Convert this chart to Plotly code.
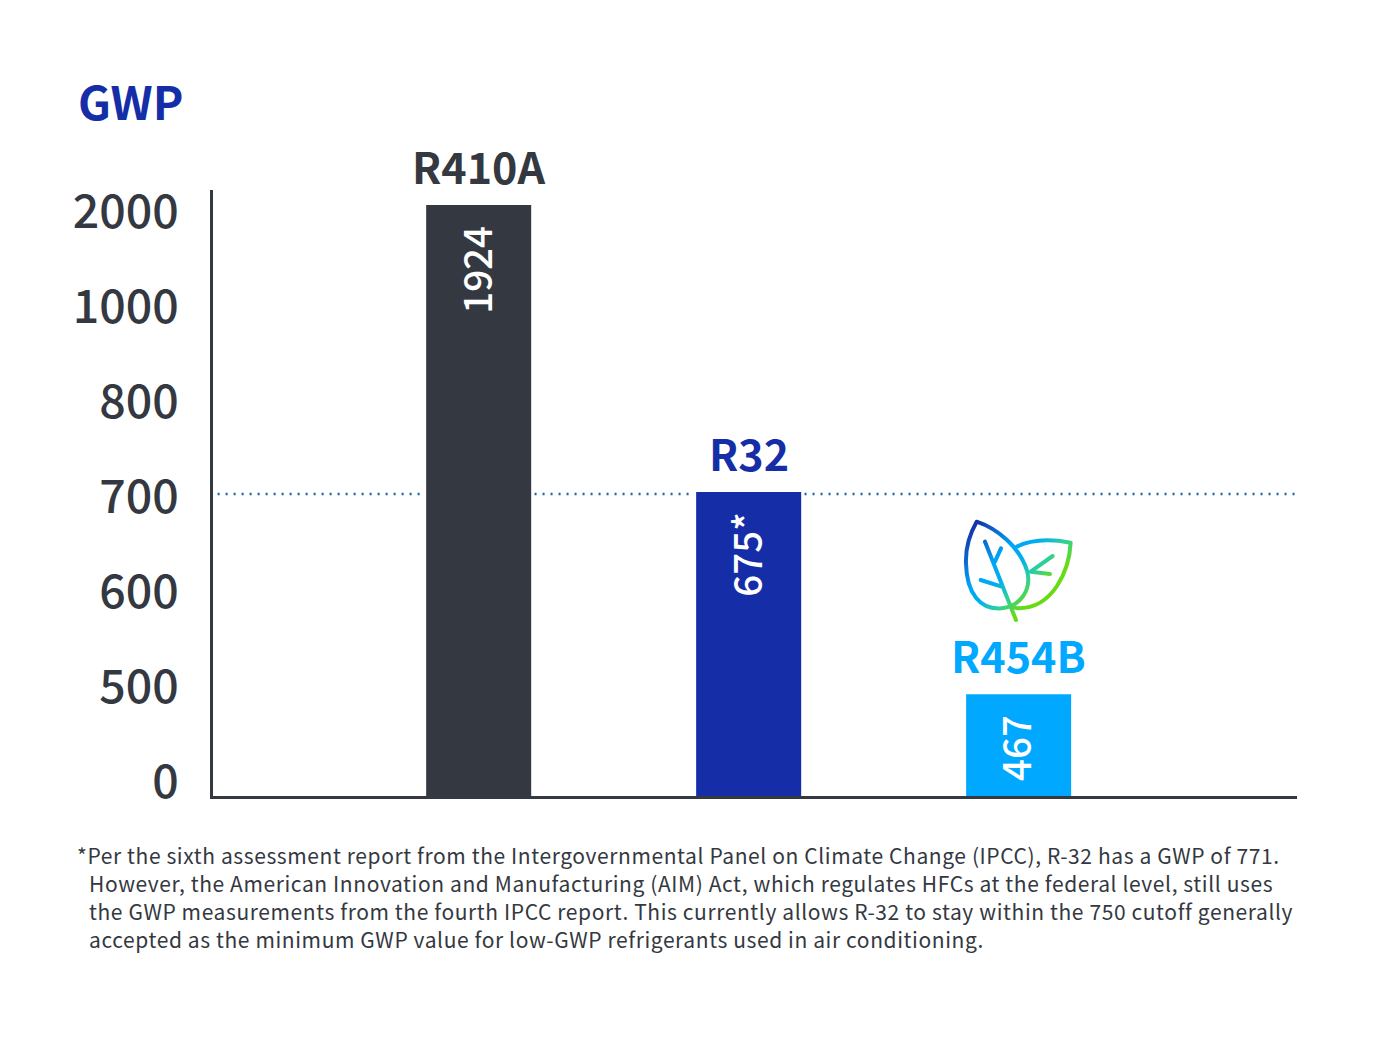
"""GWP comparison of refrigerants, drawn on a stepped (non linear) axis."""

import base64

import plotly.graph_objects as go

refrigerants = ["R410A", "R32", "R454B"]
gwp_labels = ["1924", "675*", "467"]
# bar heights in axis steps, the axis in the picture is evenly spaced, not linear
bar_levels = [6.22, 3.2, 1.07]
bar_colors = ["#343841", "#152EA8", "#00A9FF"]

tick_labels = ["0", "500", "600", "700", "800", "1000", "2000"]
tick_levels = [0.15, 1.15, 2.15, 3.15, 4.15, 5.15, 6.15]

cutoff_level = 3.18
cutoff_x = [-0.967, -0.207, None, 0.207, 0.796, None, 1.207, 3.04]

footnote_lines = [
    "*Per the sixth assessment report from the Intergovernmental Panel on Climate Change (IPCC), R-32 has a GWP of 771.",
    "However, the American Innovation and Manufacturing (AIM) Act, which regulates HFCs at the federal level, still uses",
    "the GWP measurements from the fourth IPCC report. This currently allows R-32 to stay within the 750 cutoff generally",
    "accepted as the minimum GWP value for low-GWP refrigerants used in air conditioning.",
]
footnote_x = [75, 87, 87, 87]
footnote_y = [855, 883, 911, 938.5]

DARK = "#343841"
FONT = "Noto Sans CJK SC"

# plot area in page pixels, the page body adds 8px around the figure
LEFT, RIGHT, TOP, BOTTOM = 213, 1297, 190, 796
PAGE_MARGIN = 8

LEAF_SVG = """<svg xmlns="http://www.w3.org/2000/svg" viewBox="0 0 480 420" width="480" height="420">
<defs><linearGradient id="g" gradientUnits="userSpaceOnUse" x1="87" y1="87" x2="310" y2="310">
<stop offset="0" stop-color="#1530A8"/><stop offset="0.39" stop-color="#00A6F5"/>
<stop offset="0.55" stop-color="#00AEEF"/><stop offset="0.72" stop-color="#2CCFA0"/>
<stop offset="0.9" stop-color="#68DC12"/></linearGradient></defs>
<g fill="none" stroke="url(#g)" stroke-width="12" stroke-linecap="round" stroke-linejoin="round">
<path d="M110,65 C170,85 240,140 262,215 C275,270 240,320 185,325 C120,330 80,280 78,190 C76,140 90,100 110,65 Z"/>
<path d="M135,125 L228,360 M183,145 L165,185 M122,240 L185,260"/>
<path d="M230,140 C280,115 340,118 392,128 C388,210 340,325 235,325 C225,325 218,322 210,318"/>
<path d="M338,168 L272,215 L330,222"/>
</g></svg>"""


def paper_x(px):
    return (px - LEFT) / (RIGHT - LEFT)


def paper_y(py):
    return (BOTTOM - py) / (BOTTOM - TOP)


def page_text(text, px, py, size, color, xanchor="center", weight="normal"):
    return dict(
        text=text,
        xref="paper",
        yref="paper",
        x=paper_x(px),
        y=paper_y(py),
        xanchor=xanchor,
        yanchor="middle",
        showarrow=False,
        font=dict(family=FONT, size=size, color=color, weight=weight),
    )


fig = go.Figure()
fig.add_trace(
    go.Scatter(
        x=cutoff_x,
        y=[None if x is None else cutoff_level for x in cutoff_x],
        mode="lines",
        line=dict(color="#1A66A6", width=2.5, dash="2px,6px"),
        cliponaxis=False,
        hoverinfo="skip",
    )
)
fig.add_trace(
    go.Bar(
        x=list(range(len(refrigerants))),
        y=bar_levels,
        width=0.389,
        marker=dict(color=bar_colors, line_width=0),
        hovertext=refrigerants,
    )
)

annotations = [page_text("GWP", 130.5, 100, 46, "#152EA8", weight="bold")]
for i, name in enumerate(refrigerants):
    annotations.append(
        dict(
            text=f"<b>{name}</b>",
            x=i,
            y=bar_levels[i],
            yanchor="bottom",
            yshift=7,
            showarrow=False,
            font=dict(family=FONT, size=43, color=bar_colors[i]),
        )
    )
    annotations.append(
        dict(
            text=gwp_labels[i],
            x=i,
            y=bar_levels[i],
            yanchor="top",
            xshift=-4,
            yshift=-19,
            textangle=-90,
            showarrow=False,
            font=dict(family=FONT, size=38.5, color="white", weight=500),
        )
    )
for line, px, py in zip(footnote_lines, footnote_x, footnote_y):
    spaced = f'<span style="letter-spacing:0.6px">{line}</span>'
    annotations.append(page_text(spaced, px, py, 21, DARK, xanchor="left"))

leaf_uri = "data:image/svg+xml;base64," + base64.b64encode(LEAF_SVG.encode()).decode()

fig.update_layout(
    width=1380 - 2 * PAGE_MARGIN,
    height=1037 - 2 * PAGE_MARGIN,
    margin=dict(
        l=LEFT - PAGE_MARGIN,
        r=1380 - RIGHT - PAGE_MARGIN,
        t=TOP - PAGE_MARGIN,
        b=1037 - BOTTOM - PAGE_MARGIN,
    ),
    paper_bgcolor="white",
    plot_bgcolor="white",
    showlegend=False,
    annotations=annotations,
    images=[
        dict(
            source=leaf_uri,
            xref="paper",
            yref="paper",
            x=paper_x(940),
            y=paper_y(500),
            sizex=160 / (RIGHT - LEFT),
            sizey=140 / (BOTTOM - TOP),
            xanchor="left",
            yanchor="top",
            sizing="stretch",
            layer="above",
        )
    ],
)
fig.update_xaxes(
    range=[-0.984, 3.031],
    showgrid=False,
    zeroline=False,
    showticklabels=False,
    ticks="",
    showline=True,
    linecolor=DARK,
    linewidth=3,
)
fig.update_yaxes(
    range=[0, 6.379],
    tickmode="array",
    tickvals=tick_levels,
    ticktext=tick_labels,
    ticks="",
    ticklabelstandoff=22,
    tickfont=dict(family=FONT, size=46.5, color=DARK, weight=500),
    showgrid=False,
    zeroline=False,
    showline=True,
    linecolor=DARK,
    linewidth=3,
)

fig.write_html("out.html")
